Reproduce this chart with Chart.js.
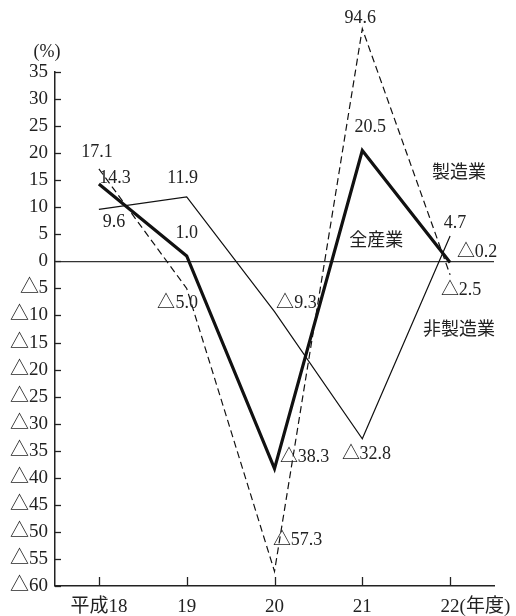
<!DOCTYPE html>
<html>
<head>
<meta charset="utf-8">
<script src="https://cdn.jsdelivr.net/npm/chart.js@4"></script>
<style>
  html, body { margin: 0; padding: 0; background: #fff; }
  #wrap { width: 516px; height: 616px; }
  /* wide triangle for the minus mark */
  @font-face {
    font-family: 'Tri';
    src: local('Noto Sans CJK JP'), local('Noto Sans CJK JP Regular'), local('NotoSansCJKjp-Regular');
    unicode-range: U+25B3;
  }
</style>
</head>
<body>
<div id="wrap"><canvas id="growthChart" width="516" height="616"></canvas></div>
<script>
// ---- data ----
const categories = ['平成18', '19', '20', '21', '22'];
const allIndustry = [14.3, 1.0, -38.3, 20.5, -0.2];       // 全産業
const manufacturing = [17.1, -5.0, -57.3, 94.6, -2.5];    // 製造業
const nonManufacturing = [9.6, 11.9, -9.3, -32.8, 4.7];   // 非製造業
const seriesNames = ['全産業', '製造業', '非製造業'];
const yMin = -60, yMax = 35, yStep = 5;
const yCap = 43; // out-of-range values are drawn cut at this level

// label offsets (px) from each point, per series
const labelOffsets = [
  [[16, -6], [0, -23], [30, -11], [8, -23], [27, -10]],
  [[-2, -17], [-9, 15], [23, -31], [-2, -10], [11, 15]],
  [[15, 13], [-4, -19], [22, -8], [4, 15], [5, -13]]
];
// where the series names sit (category index, value)
const namePos = [[3.16, 3.7], [4.1, 16.2], [4.1, -12.8]];

const FONT = "Tri, 'Liberation Serif', 'Noto Sans CJK JP', serif";
const INK = '#222';

function fmt(v) { return v < 0 ? '△' + Math.abs(v).toFixed(1) : v.toFixed(1); }
function tickFmt(v) { return v < 0 ? '△' + Math.abs(v) : String(v); }

const annotate = {
  id: 'annotate',
  afterDraw(chart) {
    const ctx = chart.ctx;
    const x = chart.scales.x, y = chart.scales.y;
    const series = [allIndustry, manufacturing, nonManufacturing];
    ctx.save();
    ctx.strokeStyle = INK;
    ctx.lineWidth = 1.3;
    // inward ticks
    for (let v = yMin; v <= yMax; v += yStep) {
      const py = Math.round(y.getPixelForValue(v)) + 0.5;
      ctx.beginPath(); ctx.moveTo(x.left, py); ctx.lineTo(x.left + 6, py); ctx.stroke();
    }
    categories.forEach((c, i) => {
      const px = Math.round(x.getPixelForValue(i)) + 0.5;
      ctx.beginPath(); ctx.moveTo(px, y.bottom); ctx.lineTo(px, y.bottom - 9); ctx.stroke();
    });

    ctx.fillStyle = INK;
    ctx.font = '18px ' + FONT;
    ctx.textAlign = 'center';
    ctx.textBaseline = 'middle';
    // value labels
    series.forEach((data, s) => {
      const meta = chart.getDatasetMeta(s);
      data.forEach((v, i) => {
        const pt = meta.data[i];
        const [dx, dy] = labelOffsets[s][i];
        ctx.fillText(fmt(v), pt.x + dx, pt.y + dy);
      });
    });
    // series names
    seriesNames.forEach((n, s) => {
      ctx.fillText(n, x.getPixelForValue(namePos[s][0]), y.getPixelForValue(namePos[s][1]));
    });
    // unit labels
    ctx.fillText('(%)', 47, 52);
    ctx.textAlign = 'left';
    ctx.font = '19px ' + FONT;
    const lastX = x.getPixelForValue(categories.length - 1);
    ctx.fillText('(年度)', lastX + ctx.measureText(categories[categories.length - 1]).width / 2, 607);
    ctx.restore();
  }
};

function draw() {
  new Chart(document.getElementById('growthChart'), {
    type: 'line',
    data: {
      labels: categories,
      datasets: [
        {
          label: seriesNames[0],
          data: allIndustry,
          borderColor: '#111',
          borderWidth: 3.2,
          pointRadius: 0,
          tension: 0
        },
        {
          label: seriesNames[1],
          data: manufacturing.map(v => Math.min(v, yCap)),
          borderColor: '#111',
          borderWidth: 1.2,
          borderDash: [7, 4],
          pointRadius: 0,
          tension: 0,
          clip: false
        },
        {
          label: seriesNames[2],
          data: nonManufacturing,
          borderColor: '#111',
          borderWidth: 1.2,
          pointRadius: 0,
          tension: 0
        }
      ]
    },
    options: {
      responsive: false,
      animation: false,
      layout: { padding: { top: 72, right: 22, left: 0, bottom: 0 } },
      plugins: { legend: { display: false }, tooltip: { enabled: false } },
      scales: {
        x: {
          offset: true,
          grid: { display: false, drawTicks: false },
          border: { color: INK, width: 1.5 },
          ticks: { color: INK, font: { family: FONT, size: 19 }, padding: 10, maxRotation: 0 },
          afterFit(scale) { scale.height = 30; }
        },
        y: {
          min: yMin,
          max: yMax,
          grid: {
            drawTicks: false,
            color: c => c.tick && c.tick.value === 0 ? '#333' : 'rgba(0,0,0,0)',
            lineWidth: 1.3
          },
          border: { color: INK, width: 1.5 },
          ticks: {
            stepSize: yStep,
            color: INK,
            padding: 7,
            font: { family: FONT, size: 19 },
            callback: v => tickFmt(v)
          },
          afterFit(scale) { scale.width = 55; }
        }
      }
    },
    plugins: [annotate]
  });
}

document.fonts.load('19px Tri', '△').then(draw, draw);
</script>
</body>
</html>
